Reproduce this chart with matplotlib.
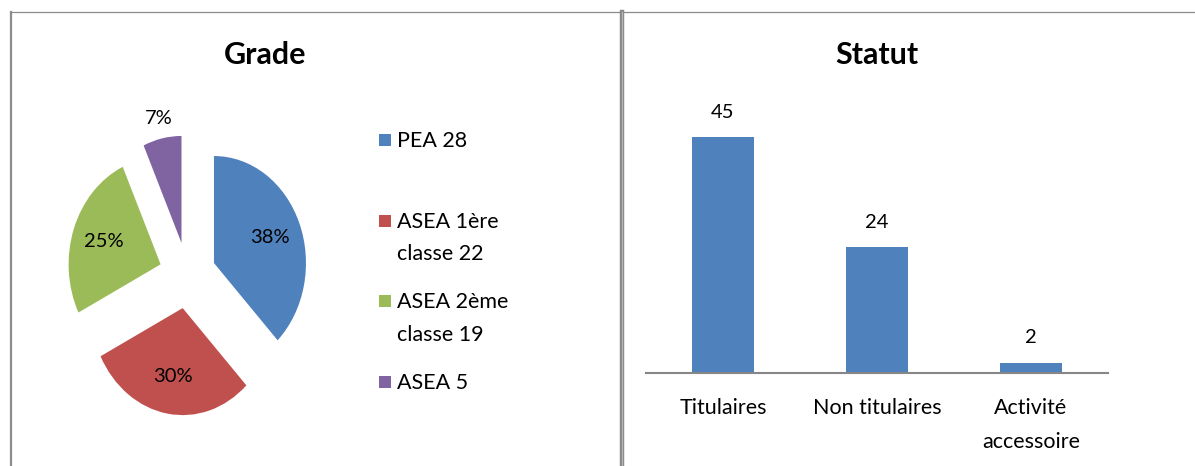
import matplotlib
matplotlib.use('Agg')
import matplotlib.pyplot as plt
from matplotlib.lines import Line2D
from matplotlib.patches import Rectangle
import numpy as np

plt.rcParams['font.family'] = ['Lato', 'DejaVu Sans']

# données - Grade
grade_labels = ['PEA 28', 'ASEA 1ère\nclasse 22', 'ASEA 2ème\nclasse 19', 'ASEA 5']
grade_values = [28, 22, 19, 5]
grade_pct = ['38%', '30%', '25%', '7%']
grade_colors = ['#4F81BD', '#C0504D', '#9BBB59', '#8064A2']

# données - Statut
statut_labels = ['Titulaires', 'Non titulaires', 'Activité\naccessoire']
statut_values = [45, 24, 2]
bar_color = '#4F81BD'

W, H = 1195, 466
fig = plt.figure(figsize=(W / 100, H / 100), dpi=100)


def box(x0, y0, w, h):
    # pixels (origine en haut à gauche) -> coordonnées figure
    return [x0 / W, 1 - (y0 + h) / H, w / W, h / H]


# cadres des graphiques
border = '#8C8C8C'
fig.add_artist(Line2D([10 / W, 1], [1 - 12 / H] * 2, color=border, lw=0.9))
fig.add_artist(Line2D([11 / W] * 2, [0, 1 - 12 / H], color=border, lw=1.6))
fig.add_artist(Line2D([622 / W] * 2, [0, 1 - 12 / H], color='#8A8A8A', lw=3.2))
fig.add_artist(Line2D([622 / W] * 2, [0, 1 - 12 / H], color='#B8B8B8', lw=0.8))

# 1. Camembert "Grade"
ax1 = fig.add_axes(box(187.5 - 147.2, 275.4 - 171.2, 294.4, 342.4))
pct_iter = iter(grade_pct)
wedges, texts, autotexts = ax1.pie(
    grade_values, colors=grade_colors, startangle=90, counterclock=False,
    explode=[0.31] * len(grade_values), autopct=lambda p: next(pct_iter),
    pctdistance=0.65, textprops={'fontsize': 14.5, 'color': 'black'},
    wedgeprops={'linewidth': 0})
ax1.set_aspect('auto')
ax1.set_xlim(-1.6, 1.6)
ax1.set_ylim(-1.6, 1.6)

# petite part : étiquette à l'extérieur
w = wedges[-1]
th = np.deg2rad((w.theta1 + w.theta2) / 2)
cx, cy = w.center
autotexts[-1].set_position((cx + 1.19 * np.cos(th), cy + 1.19 * np.sin(th)))

fig.text(265 / W, 1 - 55 / H, 'Grade', ha='center', va='center',
         fontsize=22, fontweight='bold')

# légende à la manière d'Excel
for i, (lab, col) in enumerate(zip(grade_labels, grade_colors)):
    yc = 140 + i * 80.7
    fig.add_artist(Rectangle((379 / W, 1 - (yc + 6) / H), 12 / W, 12 / H,
                             transform=fig.transFigure, color=col, lw=0))
    fig.text(397 / W, 1 - (yc - 9) / H, lab, ha='left', va='top',
             fontsize=15.5, linespacing=1.8)

# 2. Barres "Statut"
ax2 = fig.add_axes(box(646, 111, 462, 262))
x = np.arange(len(statut_values))
bars = ax2.bar(x, statut_values, width=0.4, color=bar_color)
ax2.bar_label(bars, padding=12, fontsize=14.5)
ax2.set_xlim(-0.5, 2.5)
ax2.set_ylim(0, 50)
ax2.set_xticks(x)
ax2.set_xticklabels(statut_labels, fontsize=15.5, linespacing=1.85)
ax2.tick_params(axis='x', length=0, pad=18)
ax2.set_yticks([])
for s in ['top', 'right', 'left']:
    ax2.spines[s].set_visible(False)
ax2.spines['bottom'].set_color('#868686')
ax2.spines['bottom'].set_linewidth(1.5)

fig.text(877 / W, 1 - 55 / H, 'Statut', ha='center', va='center',
         fontsize=22, fontweight='bold')

plt.savefig('out.png', dpi=100)
